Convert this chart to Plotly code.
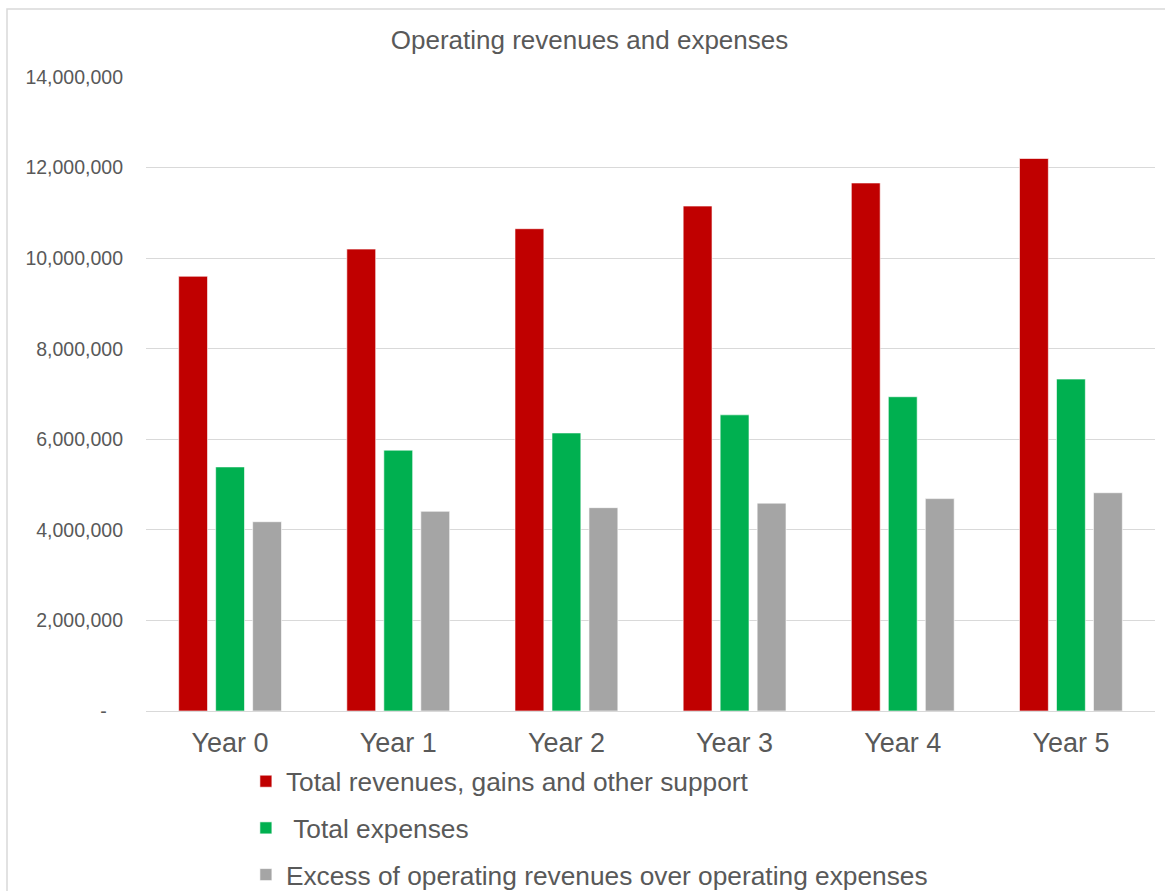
import plotly.graph_objects as go

# Operating figures per projection year
years = ["Year 0", "Year 1", "Year 2", "Year 3", "Year 4", "Year 5"]
total_revenues = [9600000, 10200000, 10650000, 11150000, 11660000, 12200000]
total_expenses = [5390000, 5760000, 6140000, 6540000, 6940000, 7330000]
excess_revenues = [4180000, 4410000, 4490000, 4590000, 4690000, 4820000]

series_names = [
    "Total revenues, gains and other support",
    "\u00a0Total expenses",
    "Excess of operating revenues over operating expenses",
]
series_colors = ["#C00000", "#00B050", "#A5A5A5"]

y_tickvals = [0, 2000000, 4000000, 6000000, 8000000, 10000000, 12000000, 14000000]
y_ticktext = ["-\u00a0\u00a0\u00a0"] + [f"{v:,}" for v in y_tickvals[1:]]

TEXT = "#595959"
FONT = "Liberation Sans, Arial, sans-serif"

fig = go.Figure()
for i, (name, vals, col) in enumerate(
    zip(series_names, [total_revenues, total_expenses, excess_revenues], series_colors)
):
    fig.add_trace(
        go.Bar(
            x=years,
            y=vals,
            name=name,
            legendgroup=f"g{i}",
            marker=dict(color=col, line=dict(color="rgba(255,255,255,0.6)", width=1)),
        )
    )

fig.update_layout(
    width=1165,
    height=891,
    margin=dict(l=146, r=10, t=77, b=180, autoexpand=False),
    paper_bgcolor="white",
    plot_bgcolor="white",
    barmode="group",
    bargap=0.34,
    bargroupgap=0.22,
    font=dict(family=FONT, color=TEXT),
    title=dict(
        text="Operating revenues and expenses",
        x=0.506,
        xanchor="center",
        y=1 - 40 / 891,
        yanchor="middle",
        yref="container",
        font=dict(size=26, color=TEXT, family=FONT),
    ),
    xaxis=dict(
        showgrid=False,
        showline=True,
        linecolor="#D9D9D9",
        linewidth=1,
        ticks="",
        tickfont=dict(size=27, color=TEXT),
        ticklabelstandoff=8,
    ),
    yaxis=dict(
        range=[0, 14000000],
        tickvals=y_tickvals,
        ticktext=y_ticktext,
        showgrid=True,
        gridcolor="#D9D9D9",
        gridwidth=1,
        zeroline=False,
        showline=False,
        ticks="",
        tickfont=dict(size=19.5, color=TEXT),
        ticklabelstandoff=22,
    ),
    legend=dict(
        orientation="v",
        x=0.099,
        xanchor="left",
        y=-0.0735,
        yanchor="top",
        font=dict(size=26.3, color=TEXT),
        tracegroupgap=9.5,
        itemclick=False,
        bgcolor="rgba(0,0,0,0)",
    ),
)

# Light frame around the chart area
fig.add_shape(
    type="rect",
    xref="paper",
    yref="paper",
    x0=(7 - 146) / 1009,
    x1=(1200 - 146) / 1009,
    y0=(711 - 950) / 634,
    y1=(711 - 9) / 634,
    line=dict(color="#D9D9D9", width=1.5),
    fillcolor="rgba(0,0,0,0)",
    layer="below",
)

fig.write_html("out.html")
